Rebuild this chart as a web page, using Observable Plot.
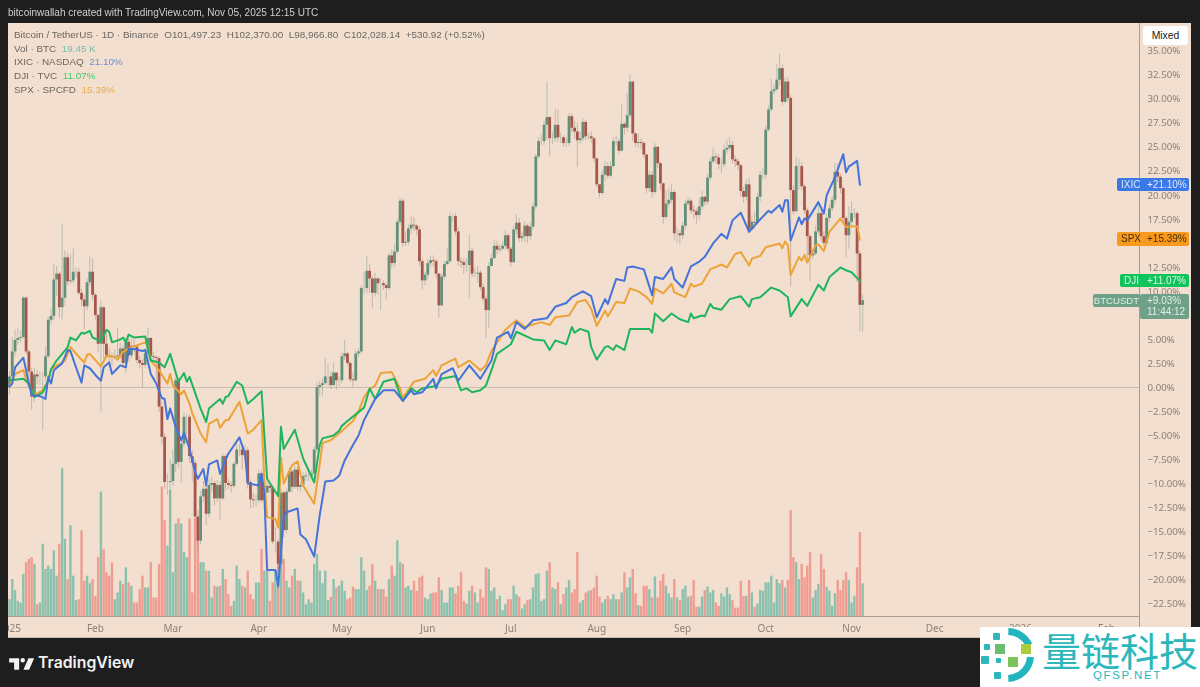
<!DOCTYPE html>
<html><head><meta charset="utf-8">
<script src="https://cdn.jsdelivr.net/npm/d3@7"></script>
<script src="https://cdn.jsdelivr.net/npm/@observablehq/plot@0.6"></script>
<style>
html,body{margin:0;padding:0;width:1200px;height:687px;overflow:hidden;background:#1e1e1e;font-family:"Liberation Sans",Arial,sans-serif}
.abs{position:absolute;white-space:pre}
#pane{position:absolute;left:8px;top:23px;width:1183px;height:615px;background:#f2dfcf}
#chart{position:absolute;left:0;top:0;z-index:1;filter:blur(.4px)}
#chart svg{background:transparent;display:block}
.leg{font-size:9.9px;color:#6b6763;left:14px;z-index:2;filter:blur(.25px)}
.tag{position:absolute;height:13.5px;line-height:13.5px;font-size:10px;z-index:3;border-radius:2px;filter:blur(.25px)}
</style></head><body>
<div id="pane"></div>
<div id="chart"></div>
<div class="abs" style="left:0;top:0;width:8px;height:687px;background:#1e1e1e;z-index:2"></div>
<div class="abs" style="left:8px;top:7px;font-size:10.05px;color:#cfcfcf;z-index:2;filter:blur(.25px)">bitcoinwallah created with TradingView.com, Nov 05, 2025 12:15 UTC</div>
<div class="abs leg" style="top:29px">Bitcoin / TetherUS · 1D · Binance  O101,497.23  H102,370.00  L98,966.80  C102,028.14  +530.92 (+0.52%)</div>
<div class="abs leg" style="top:42.500px">Vol · BTC  <span style="color:#74bfa8">19.45 K</span></div>
<div class="abs leg" style="top:56px">IXIC · NASDAQ  <span style="color:#6f8fdc">21.10%</span></div>
<div class="abs leg" style="top:69.500px">DJI · TVC  <span style="color:#46c873">11.07%</span></div>
<div class="abs leg" style="top:83.500px">SPX · SPCFD  <span style="color:#efaa4a">15.39%</span></div>
<div class="abs" style="left:1143px;top:26px;width:45px;height:19px;line-height:19px;background:#fff;border-radius:3px;text-align:center;font-size:10.4px;color:#222;z-index:3">Mixed</div>
<div id="tags"></div>
<svg class="abs" style="left:9px;top:654px;z-index:3" width="26" height="20" viewBox="0 0 36 28"><path fill="#f2f2f2" d="M14 6H0v6h7v10h7V6zm14 16h-8l7-16h8l-7 16zm-9-10a3.2 3.2 0 1 0 0-6.400a3.200 3.200 0 0 0 0 6.400z"/></svg>
<div class="abs" style="left:38px;top:653px;font-size:15.8px;font-weight:600;color:#f2f2f2;z-index:3;font-family:Inter,'Liberation Sans',sans-serif">TradingView</div>
<div class="abs" style="left:980px;top:627px;width:220px;height:60px;background:#fff;z-index:4">
<svg width="62" height="58" style="position:absolute;left:0;top:0">
<path d="M28.300 4.500A23.500 23.500 0 0 1 49 18" fill="none" stroke="#22b5bd" stroke-width="7"/>
<path d="M50.500 30A23.500 23.500 0 0 1 28.300 51.500" fill="none" stroke="#22b5bd" stroke-width="7"/>
<g fill="#2bb7bb"><rect x="13" y="6" width="7" height="7" rx="1"/><rect x="4" y="17" width="6" height="6" rx="1"/><rect x="1" y="29" width="8" height="8" rx="1"/><rect x="16" y="31" width="5" height="5" rx="1"/><rect x="14" y="45" width="7" height="7" rx="1"/></g>
<rect x="15" y="17" width="10" height="10" fill="#69bf6d"/><rect x="41" y="17" width="10" height="10" fill="#a9cd3c"/><rect x="28" y="30" width="10" height="10" fill="#7cc35c"/>
</svg>
<div class="abs" style="left:62px;top:-1px;font-size:39px;line-height:46px;color:#2bb7bb;font-family:'Noto Sans CJK SC',sans-serif;letter-spacing:0">量链科技</div>
<div class="abs" style="left:113px;top:42px;font-size:11.5px;letter-spacing:1.600px;color:#2bb7bb;font-family:'Liberation Sans',sans-serif">QFSP.NET</div>
</div>
<script>
// BTC daily candles, % change on the chart's percent scale; day 0 = 2025-01-01. Open = previous close.
const closes=[1.1,3.7,4.9,5.1,5.2,9.3,3.7,1.6,-1.0,1.3,
1.1,1.1,1.1,3.2,7.0,7.4,11.2,11.8,8.3,9.3,
13.5,11,11.1,12,12,9.8,9.1,8.4,10.9,12,
9.6,7.5,4.5,8.3,4.5,3.3,3.2,3.1,3.2,3.3,
4.0,2.5,4.7,3.3,4.3,4.2,2.8,2.5,2.3,3.5,
5.1,3.2,3.1,3.0,-2.05,-5.2,-9.9,-9.9,-9.8,-8,
0.7,-7.8,-5.9,-3.1,-3.1,-7.2,-7.9,-13.5,-16,-11.4,
-10.6,-13.2,-10.2,-10,-11.6,-10.2,-11.6,-7.2,-10,-10.2,
-10.3,-8,-6.5,-6.5,-7.1,-6.6,-9.9,-11.7,-11.8,-11.8,
-9,-11.8,-11,-10.3,-10.5,-16.1,-16.1,-18.4,-11,-14.9,
-10.9,-8.8,-10.4,-8.6,-10.4,-10.2,-9.3,-9.2,-9.2,-9,
-6.5,0,0.2,0.4,1.1,1.1,0.2,1.5,0.7,0.7,
3.2,3.5,2.5,0.8,0.7,3.5,3.7,10.3,10.3,12.1,
11.3,9.8,11.3,10.8,10.8,10.6,10.3,13.7,12.9,14.1,
17.2,19.4,15.0,15.1,16.5,16.9,16.8,16.4,13.1,11.1,
11.7,12.9,13.2,13.1,11.8,8.5,11.5,12.8,13.1,17.8,
17.8,16.2,13.1,13,12.7,12.7,14.2,11.8,11.8,11.9,
10.4,9.2,8,12.6,13.4,14.7,14.3,14.4,14.7,15.8,
14.4,13,16.4,17.1,15.5,15.7,16.8,15.7,16.7,18.8,
24,25.6,25.6,27.3,28.1,25.9,25.9,27.3,26,26,
25.4,25.4,28.2,27,26.6,25.7,25.9,27.6,26.1,26.1,
25.9,23.8,21.1,20.2,22.1,23,22,23,25.6,25.6,
24.6,27.4,27,28.3,31.8,26.4,25.4,25.5,25.4,24.2,
20.7,22.1,20.3,25,23.3,21.2,17.7,19.1,19.5,20.3,
16,16,15.8,16.8,19.1,19.4,18.4,18.3,17.9,18.8,
19.8,19.3,21.8,23.5,24,23.9,23.2,23.2,24.7,24.9,
25.2,23.7,23.5,23.1,20.4,19.8,21.1,16.4,17.2,17.1,
19.8,22.1,22.1,26.8,28.9,30.8,31,32,33.2,29.7,
31.8,30.1,20.5,18.3,23,23,20.9,18.4,15.7,13.7,
13.9,16.2,18.1,15.7,15,17.6,18.6,19.5,22.4,21.9,
20.7,17.6,15.8,17.2,18.1,18.1,13.9,8.55,9.03];
const highs=[1.6,5.2,6.0,6.2,5.9,9.5,9.5,3.9,2.0,2.0,
1.8,1.6,1.6,4.2,7.3,8.2,12.8,12.6,12.0,17.0,
14.2,14.0,13.8,14.4,12.5,12.4,10.2,9.6,11.3,13.6,
13.4,9.8,7.6,9.0,8.4,6.0,4.0,3.6,3.9,6.2,
4.6,4.3,5.1,5.1,5.0,4.9,4.4,3.3,2.9,4.0,
6.2,5.2,3.7,3.3,3.2,-1.5,-4.8,-9.0,-7.5,-6.5,
1.0,1.0,-5.4,-2.6,-2.8,-2.8,-6.6,-7.6,-12.8,-10.8,
-9.8,-10.2,-9.6,-9.4,-9.8,-9.7,-9.8,-6.9,-7.0,-9.6,
-9.8,-7.8,-5.9,-5.9,-6.2,-6.0,-6.3,-9.6,-11,-11.2,
-8.6,-8.7,-10.6,-9.9,-10.1,-10.3,-14.6,-15.8,-10.6,-10.8,
-10.6,-8.4,-8.6,-8.2,-8.3,-9.8,-8.9,-8.8,-8.7,-8.6,
-6.2,0.5,0.7,0.9,3.0,2.4,1.6,2.5,1.4,1.1,
3.6,4.9,3.7,2.7,1.5,3.8,4.0,10.6,12.0,13.6,
12.8,11.6,11.9,11.4,11.3,11.1,10.9,14.0,14.3,14.9,
17.5,19.7,19.6,16.2,16.9,17.8,17.7,17.0,16.7,13.4,
12.0,13.3,13.7,13.7,13.3,11.9,11.8,13.1,14.5,18.2,
18.0,18.1,16.6,13.5,13.4,13.4,15.9,14.5,12.4,12.6,
12.2,10.8,9.5,13.0,13.9,15.3,15.2,14.9,15.2,16.3,
16.0,14.6,16.8,18.0,17.6,16.1,17.2,17.0,17.1,19.2,
24.3,26.0,26.3,27.7,31.8,28.2,26.6,29.0,28.9,26.5,
26.2,26.0,28.5,28.5,27.7,27.5,26.6,28,27.8,26.5,
26.6,26.0,23.9,21.1,22.6,23.5,23.4,23.5,26.0,26.2,
25.9,29.4,27.6,30.6,32.6,31.9,26.5,26.4,25.9,25.6,
24.2,22.5,22.5,25.4,25.1,23.5,21.3,20.5,20.7,21.1,
20.5,16.6,16.3,17.2,19.5,19.8,19.6,18.9,18.6,19.7,
20.4,19.9,22.2,23.9,24.9,24.4,24.3,23.9,25.2,25.7,
26,25.6,24.1,23.8,23.2,20.8,21.6,21.7,17.9,18.3,
20.2,22.5,22.8,27.2,29.3,32.1,31.5,33.6,34.7,33.6,
32.2,32.2,30.4,21,23.9,23.7,23.4,21.2,18.7,15.9,
14.4,16.8,19.4,18.6,16.2,18,19,19.9,23.3,23.3,
22.2,20.9,17.8,18.8,19.3,18.6,18.3,14.2,9.6];
const lows=[-0.8,0.8,3.2,4.4,4.6,5.0,3.4,0.6,-2.4,-1.6,
0.3,0.2,-4.5,0.6,3.0,6.5,7.0,9.5,7.2,7.0,
8.5,10.6,10.7,10.8,11.4,9.6,8.4,6.0,8.0,10.5,
9.0,7.0,3.6,-2.6,3.0,3.0,2.6,2.3,2.8,2.7,
3.0,2.0,1.4,2.7,3.0,3.6,2.4,1.9,-0.1,2.0,
3.0,2.8,2.6,0.8,-2.6,-6.0,-10.6,-11.2,-14.0,-10.3,
-8.8,-8.4,-10,-6.2,-5.0,-7.9,-9.8,-14.0,-17,-16.4,
-12.0,-14.4,-13.6,-11,-12.3,-12,-13.8,-11.8,-10.8,-10.6,
-11,-10.5,-8.2,-7.2,-8.6,-7.3,-10.6,-12.6,-12.6,-12.4,
-12.1,-12,-11.9,-11,-11,-16.4,-17.2,-21,-18.6,-15.6,
-15.2,-11,-11,-10.6,-10.8,-10.9,-10.4,-9.8,-9.8,-9.6,
-9.4,-6.8,-0.9,-0.9,0.2,0.1,-0.2,0.1,-0.3,0.1,
0.4,2.8,2.2,0.5,0,0.6,3.1,3.5,9.7,9.8,
9.8,8.2,9.4,9.6,8.0,10.1,9.1,10.1,12.4,12.5,
13.9,16.9,14.6,14.7,14.8,15.9,16.2,15.8,12.6,10.2,
10.6,11.2,12.5,12.5,11.3,7.2,8.4,11.2,12.7,12.9,
17.2,15.8,12.6,12.4,11.8,12.0,9.3,11.4,11.4,10.9,
10.0,8.9,5.1,6.2,12.8,13.6,13.8,14.0,14.2,14.3,
14.0,12.5,12.9,15.9,15.1,15.1,15.1,15.0,15.3,16.4,
18.5,23.8,25.2,25.2,25.7,24,25.3,25.5,25.5,25.4,
25.0,25.0,25.1,26.5,25.8,22.9,25.3,25.6,25.7,25.7,
25.4,23.4,20.8,19.7,20,21.4,21.6,21.8,22.9,25.1,
24.2,24.5,26.3,26.6,28.1,25.6,25,24.9,24.8,23.8,
20.2,20.3,19.7,20.1,22.8,20.5,17,17.5,18.8,19.2,
15.3,15,14.9,15.4,16.4,18.9,18,17.5,17,17.4,
18.4,18.9,19,21.5,23.3,23.3,22.7,22.3,22.9,24.3,
24.7,23.3,22.9,22.6,19.8,19.2,19.4,16.1,16.7,16.5,
16.9,19.3,21.6,21.7,26.6,28.7,30.5,30.8,31.4,29.3,
29.5,29.7,10.5,18,18.2,20.6,20.5,18,13.2,11,
13.3,13.7,15.9,15.2,14.6,14.8,17.2,18.3,19,21.3,
20.2,17.1,13.5,14.4,16.8,17.6,10.9,5.8,5.8];
// BTC daily volume, thousands of BTC
const volumes=[10,22,15.5,9,8,25,32,34,35,31,
7,8,43,28,30,28,39,24,43,88,
46,22,54,24,9.5,10,51,21,24,19.5,
22,12,35,74,40,26,24,32,10,14,
21,19,29,20,18,8,8,16,24,17,
17,32,11,11,31,77,57,42,75,26,
55,58,55,38,35,58,14,58,45,32,
32,27,27,11,18,17.5,18,28,22,13,
6,9,30,22,18,17,27,13,10,20,
20,40,27,27,9,20,27,33,33,34,
21,17,24,28,21,21,14,7,10,8,
31,37,27,19.5,27,9.5,11.5,22,17,18,
21,15,10,11,17.5,16,16,35,27,15.5,
18,31,21,16,16,16,11.5,22,30,24,
45,32,31,17,18,15.5,21,15,23,24,
11,10,13.5,14,14,23,15.5,8,8,17,
17,13.5,18,26,9,7.5,15,18,14,8,
16,11,29,28,15,17,10,12,3.5,7,
10,10,18,13,11.5,4.5,7,9.5,10,17,
25,25.5,9,10,27,32,17,16,20,7,
13,17,21.5,14,16,38,8,9.5,14,15,
15.5,17,24,11.5,8,10,12,10,13,10,
10,14,26,17,23,28,13.5,6.5,6,18,
18,16,11,23.5,11,21,25,18,13.5,11,
22,11,9.5,16,18,11.5,12,21.5,5.5,5.5,
11.5,15.5,17.5,14,15.5,8,6,13.5,11.5,17,
13,9.5,5,5,21,12,12,21.5,14,5.5,
7.5,15.5,15,20,20,24,8,22,19.5,21.5,
17,21.5,63,35,32,22,31,23,30,38,
11,15.5,19,37,28,17.5,15,6,13.5,21.5,
15.5,21.5,26,21.5,8,12,29,50,19.45];
// [day, percent]
const ixic=[[0,0.1],[1,0.4],[2,2.1],[5,3.1],[6,1.8],[7,0.4],[8,-0.8],[11,-0.9],[13,-1.2],[14,1.1],[15,0.4],[16,1.8],[19,2.5],[21,3.9],[22,3.8],[24,2.1],[26,0.5],[27,2.3],[29,2],[31,1.3],[33,0.7],[34,2.1],[36,2.6],[37,1.4],[39,2],[40,2.3],[42,2.1],[43,4],[45,4],[48,3.8],[49,3.9],[51,1.4],[53,0.4],[55,-1.1],[56,-1.2],[57,-3.3],[58,-2.2],[60,-4.1],[62,-5.5],[63,-4.7],[65,-6.4],[67,-8.8],[68,-9.5],[70,-8.5],[71,-10.2],[72,-8],[75,-7.6],[76,-9],[79,-6.9],[83,-5.2],[85,-6.9],[86,-10],[90,-10.2],[91,-9],[92,-11],[93,-19],[96,-19],[97,-20.7],[99,-13.5],[100,-13],[104,-12.6],[105,-15.3],[107,-15.8],[110,-17.6],[112,-13.3],[114,-9.8],[117,-9.7],[119,-9.2],[121,-7.6],[124,-6],[126,-5],[128,-3.4],[130,-2.3],[132,-1.2],[135,-0.3],[139,-0.3],[142,-1.4],[145,-0.3],[146,-0.7],[149,-0.5],[153,0.9],[154,-0.1],[156,1.4],[160,2],[162,0.7],[166,2.3],[170,0.9],[174,2.8],[176,5.2],[180,5.8],[181,5.1],[183,6.8],[186,6.1],[189,7],[194,7.2],[197,8.4],[201,8.8],[203,9.4],[207,10],[210,9.5],[212,7.3],[215,9.2],[216,8.7],[219,11.3],[222,11.1],[223,12.5],[225,12.6],[229,12.3],[232,9.6],[233,11.5],[236,11.3],[239,12.5],[240,11.3],[243,10.4],[246,12.6],[249,13.1],[251,13.6],[254,15],[257,16],[259,15.5],[261,17.4],[264,18.2],[267,16.2],[270,17.2],[274,18.4],[275,18.2],[278,19],[279,18.3],[280,19.5],[281,19.5],[282,15.3],[285,17.7],[286,17],[287,17.6],[288,17.4],[292,19.3],[294,18.1],[295,20],[298,21.9],[301,24.3],[302,22.4],[303,23],[306,23.6],[307,21.1]];
const spx=[[0,0.1],[2,1.4],[5,1.8],[6,0.9],[7,0.1],[9,-0.8],[12,-0.3],[14,0.7],[15,1.9],[20,2.8],[22,4.2],[25,3.2],[27,2.6],[28,3.4],[29,3.5],[33,2.2],[35,3.3],[38,3.2],[39,2.9],[41,3.7],[44,4.2],[49,4.7],[50,4.3],[51,2.8],[54,1.8],[57,0.4],[58,1.4],[59,0.2],[62,-0.7],[63,-0.3],[65,-1.7],[66,-2.7],[69,-4.8],[71,-5.7],[72,-3.8],[75,-3.3],[76,-4.2],[78,-3.4],[79,-3.4],[83,-1.5],[86,-4.8],[88,-4.4],[91,-3.4],[92,-9.7],[93,-13.5],[96,-13.7],[97,-14.6],[98,-7.3],[99,-10],[102,-8.1],[104,-7.7],[106,-10.2],[110,-12.1],[112,-8],[113,-5.8],[116,-5.5],[119,-4.8],[122,-4],[124,-3.5],[126,-2.5],[128,-1],[130,-0.2],[132,0.2],[134,1.5],[138,1.6],[141,-0.1],[142,-1.1],[145,0.2],[146,0.6],[150,0.9],[153,1.8],[154,1.2],[156,2.3],[161,3],[162,2.1],[166,2.8],[170,1.8],[172,2.3],[174,3.8],[179,6],[183,7],[186,6.3],[192,6.8],[195,6.5],[197,7.3],[202,7.5],[205,8.9],[208,9.1],[210,8.2],[212,6.4],[215,8],[216,7.4],[219,8.9],[222,8.8],[224,10.3],[227,10],[230,9.4],[232,8.7],[233,10.3],[236,9.8],[239,10.8],[240,9.9],[244,9.4],[246,10.8],[247,10.5],[250,10.8],[253,12.3],[257,12.8],[259,12.5],[262,13.9],[264,14.1],[267,12.7],[268,13.4],[271,13.7],[273,14.6],[278,15],[279,14.5],[280,15.2],[281,14.8],[282,11.7],[285,13.6],[286,13.2],[287,13.8],[288,13],[291,14.8],[292,14.9],[294,14.2],[296,16.2],[300,17.6],[302,16.7],[306,16.8],[307,15.39]];
const dji=[[0,0.8],[2,0.8],[5,0.9],[7,0.4],[9,-1],[12,-0.5],[14,0.7],[15,1.9],[17,2.8],[21,4.2],[22,5.2],[24,4.9],[26,5.7],[27,5.6],[29,5.9],[30,5.2],[33,4.8],[35,6],[36,5.8],[37,4.7],[40,5],[41,5.2],[42,4.7],[43,5.5],[45,5.2],[49,5.3],[51,2.8],[54,2.6],[56,2.1],[58,3.5],[61,0.6],[63,1.5],[64,0.6],[65,1.1],[69,-2.2],[71,-3.6],[72,-2.2],[76,-1.2],[77,-1.7],[78,-1],[79,-0.9],[82,0.6],[84,0.2],[86,-1.7],[88,-1.2],[91,-0.4],[93,-9.5],[97,-11.3],[98,-4.1],[99,-6.4],[103,-4.4],[106,-7.4],[110,-9.9],[112,-6],[113,-5.3],[117,-5],[119,-4.5],[120,-4],[122,-3.5],[125,-2.8],[128,-2.1],[130,-0.1],[132,-1.2],[135,0.6],[139,0.9],[141,-0.8],[142,-1.4],[145,-0.1],[147,-0.5],[149,-0.1],[153,0.1],[154,0.2],[156,0.9],[161,1.2],[163,-0.3],[165,-0.1],[167,-0.5],[170,-0.3],[172,0.2],[174,1.8],[176,3.5],[181,4.5],[183,5.8],[189,5],[193,4.9],[195,3.9],[197,4.9],[201,4.5],[203,6.3],[204,5.7],[206,6.1],[209,5.8],[210,4.2],[212,2.9],[215,4.2],[216,4.3],[218,3.9],[219,4.4],[222,3.9],[224,6.1],[231,6.1],[232,5.7],[233,7.7],[236,6.9],[239,7.7],[242,7.1],[245,6.8],[246,7.7],[247,7.2],[250,7.5],[251,7.4],[253,8.7],[254,8.3],[257,8.1],[260,9.2],[264,9.5],[267,8.4],[268,9.2],[271,9.4],[275,10.4],[278,10.1],[281,9.4],[282,7.4],[286,9.2],[288,8.5],[292,10.7],[294,10.1],[296,11.5],[300,12.5],[302,12.2],[304,12],[307,11.07]];
const seriesColors={ixic:"#4473d9",spx:"#eca337",dji:"#20b45e"};
const yTicks=[35,32.5,30,27.5,25,22.5,20,17.5,12.5,10,7.5,5,2.5,0,-2.5,-5,-7.5,-10,-12.5,-15,-17.5,-20,-22.5];
const xTickDays=[0,31,59,90,120,151,181,212,243,273,304,334,365,396];
const xTickLabels=["2025","Feb","Mar","Apr","May","Jun","Jul","Aug","Sep","Oct","Nov","Dec","2026","Feb"];
const tags=[
 {name:"IXIC",value:21.10,text:"+21.10%",bg:"#3a78e6",fg:"#dfe9ff",left:1117},
 {name:"SPX",value:15.39,text:"+15.39%",bg:"#f79a1e",fg:"#4a2c00",left:1117},
 {name:"DJI",value:11.07,text:"+11.07%",bg:"#10c45c",fg:"#dcf7e6",left:1120}
];
const btcTag={name:"BTCUSDT",value:9.03,text:"+9.03%",time:"11:44:12"};

const volBase=-23.85, volPerK=0.175;
const days=closes.map((c,i)=>({d:i,c,o:i?closes[i-1]:0,h:highs[i],l:lows[i],v:volumes[i]}));
const up=r=>r.c>=r.o;
const toLine=a=>a.map(([d,p])=>({d,p}));
const chart=Plot.plot({
  width:1200,height:687,marginLeft:8,marginRight:60,marginTop:23,marginBottom:71,
  style:{background:"transparent",overflow:"visible"},
  x:{type:"linear",domain:[-0.36,408.3],axis:null},
  y:{domain:[-23.85,37.9],axis:null},
  marks:[
    Plot.ruleX(days,{x:"d",y1:volBase,y2:r=>volBase+r.v*volPerK,strokeWidth:2.4,stroke:r=>up(r)?"#8cc1ae":"#ef9d92"}),
    Plot.ruleY([0],{stroke:"#c8bdb2",strokeWidth:1}),
    Plot.ruleY([volBase],{stroke:"#a89e95",strokeWidth:1.2}),
    Plot.ruleX(days,{x:"d",y1:"l",y2:"h",strokeWidth:.8,stroke:r=>up(r)?"#8aa596":"#ab8e84",strokeOpacity:.7}),
    Plot.ruleX(days,{x:"d",y1:"o",y2:"c",strokeWidth:2.8,stroke:r=>up(r)?"#64907a":"#a5564a"}),
    Plot.line(toLine(spx),{x:"d",y:"p",stroke:seriesColors.spx,strokeWidth:2,curve:"linear"}),
    Plot.line(toLine(dji),{x:"d",y:"p",stroke:seriesColors.dji,strokeWidth:2,curve:"linear"}),
    Plot.line(toLine(ixic),{x:"d",y:"p",stroke:seriesColors.ixic,strokeWidth:2,curve:"linear"}),
    Plot.axisY(yTicks,{anchor:"right",tickSize:0,tickPadding:7,fontSize:9.7,fill:"#8c8178",
      tickFormat:v=>(v<0?"\u2212":"")+Math.abs(v).toFixed(2)+"%"}),
    Plot.axisX(xTickDays,{anchor:"bottom",tickSize:0,tickPadding:8,fontSize:10,fill:"#8c8178",
      tickFormat:v=>xTickLabels[xTickDays.indexOf(v)]})
  ]
});
document.getElementById("chart").append(chart);
// axis borders
const yScale=chart.scale("y");
const vr=document.createElement("div");vr.className="abs";
vr.style.cssText+="left:1139px;top:23px;width:1px;height:615px;background:#a89e95;z-index:1";
document.body.append(vr);
const br=document.createElement("div");br.className="abs";
br.style.cssText+="left:8px;top:637px;width:1183px;height:1px;background:#c9bcae;z-index:1";
document.body.append(br);
// price tags, placed by the y scale
const host=document.getElementById("tags");
for(const t of tags){
  const y=yScale.apply(t.value)-6.7;
  const el=document.createElement("div");el.className="tag";
  el.style.cssText+=`left:${t.left}px;width:${1189-t.left}px;top:${y}px;background:${t.bg};color:${t.fg}`;
  el.innerHTML=`<span style="position:absolute;left:4px">${t.name}</span><span style="position:absolute;left:${1147-t.left}px">${t.text}</span>`;
  host.append(el);
}
{
  const y=yScale.apply(btcTag.value)-6.7;
  const a=document.createElement("div");a.className="tag";
  a.style.cssText+=`left:1093px;width:47px;top:${y}px;background:#6fa189;color:#dfeee6;text-align:center;font-size:9.6px`;
  a.textContent=btcTag.name;host.append(a);
  const b=document.createElement("div");b.className="tag";
  b.style.cssText+=`left:1140px;width:49px;top:${y}px;height:24px;line-height:11.500px;padding-top:1px;background:#6fa189;color:#dfeee6;font-size:10px`;
  b.innerHTML=`<span style="position:absolute;left:7px;top:1px">${btcTag.text}</span><span style="position:absolute;left:7px;top:12px">${btcTag.time}</span>`;
  host.append(b);
}
</script>
</body></html>
